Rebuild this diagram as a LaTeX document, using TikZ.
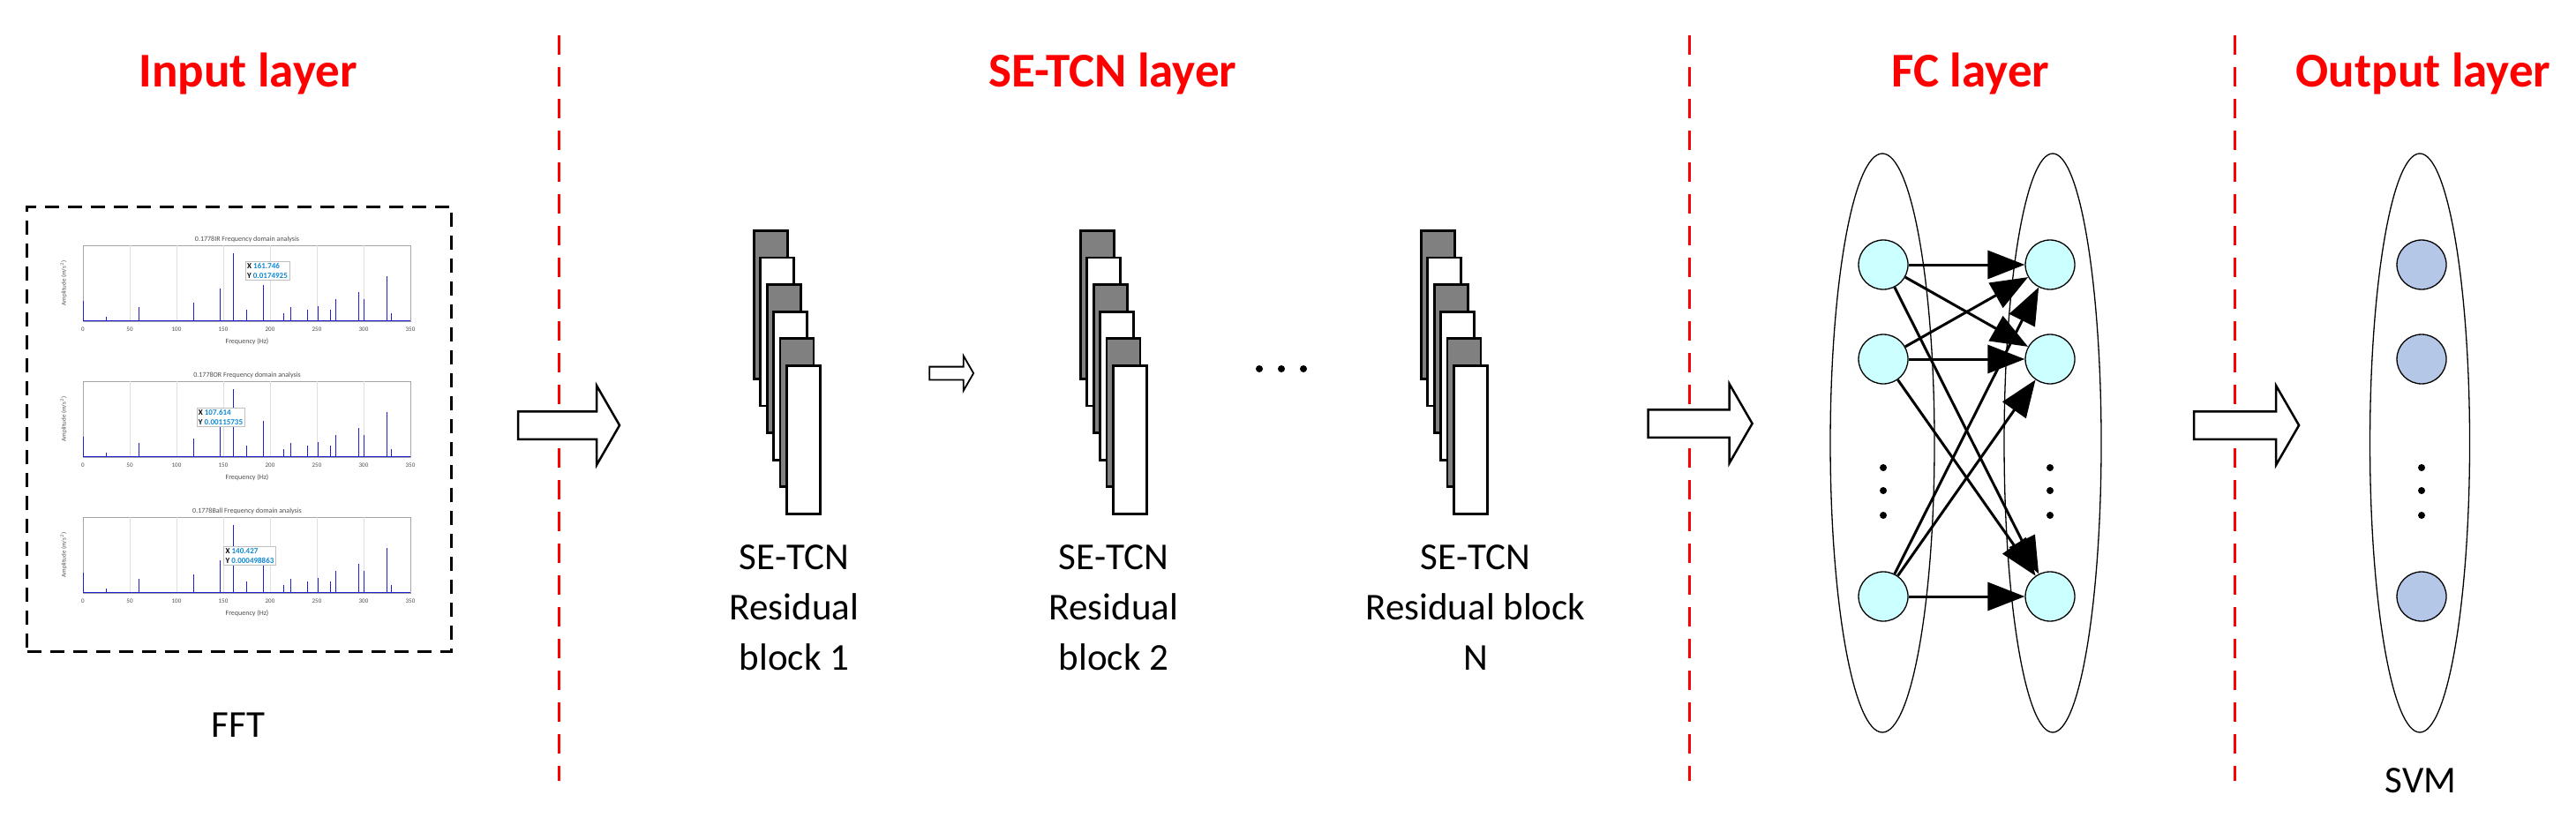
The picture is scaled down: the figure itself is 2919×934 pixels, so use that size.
\documentclass[tikz,border=0pt]{standalone}
\usepackage{fontspec}
\setmainfont{Carlito}
\usetikzlibrary{arrows.meta,shapes.arrows,shapes.geometric}
\definecolor{nodeA}{HTML}{CCFFFF}
\definecolor{nodeB}{HTML}{B4C7E7}
\definecolor{spec}{HTML}{1F1FD0}
\begin{document}
\begin{tikzpicture}[x=1pt,y=-1pt,
  title/.style={text=red,font=\fontsize{55}{60}\selectfont\bfseries},
  lab/.style={font=\fontsize{43}{57}\selectfont,align=center,anchor=north},
  sep/.style={red,line width=3pt,dash pattern=on 22pt off 14pt},
  barrow/.style={single arrow,draw,line width=2.5pt,fill=white,minimum height=#1,single arrow head extend=29pt,single arrow tip angle=120,inner xsep=0pt,inner ysep=14.5pt},
  neu/.style={circle,draw,line width=1.3pt,minimum size=56pt,inner sep=0pt},
  edge/.style={line width=3pt,-{Triangle[length=42pt,width=32pt]}},
  lay/.style={draw,line width=1.3pt}]
\useasboundingbox (0,0) rectangle (2919,934);
% separators
\foreach \x in {633,1914,2532}{\draw[sep] (\x,40) -- (\x,885);}
% titles
\node[title] (t1) at (281,84) {Input layer};
\node[title] (t2) at (1261,84) {SE-TCN layer};
\node[title] (t3) at (2233,84) {FC layer};
\node[title] (t4) at (2746,84) {Output layer};
% input box
\node[draw,line width=3pt,dash pattern=on 16pt off 10pt,minimum width=481pt,minimum height=504pt] (inbox) at (271,486) {};
\node[font=\fontsize{43}{50}\selectfont] (fft) at (270,822) {FFT};
% spectra
\foreach \yt/\ttl/\tx/\ty/\xl/\yl in {278/0.1778IR/263/307/161.746/0.0174925, 432/0.1778OR/210/473/107.614/0.00115735, 586/0.1778Ball/243/630/140.427/0.000498863}{
  \draw[gray!70,line width=0.8pt] (94,\yt) rectangle (465,\yt+86);
  \foreach \g in {147,200,253,306,359,412}{\draw[gray!25,line width=0.4pt] (\g,\yt) -- (\g,\yt+86);}
  \node[font=\fontsize{8}{9}\selectfont,text=black!70] at (280,\yt-7) {\ttl\ Frequency domain analysis};
  \node[font=\fontsize{8}{9}\selectfont,text=black!70] at (280,\yt+109) {Frequency (Hz)};
  \node[font=\fontsize{7}{8}\selectfont,text=black!70,rotate=90] at (72,\yt+43) {Amplitude (m/s$^2$)};
  \foreach \v/\n in {0/0,50/50,100/100,150/150,200/200,250/250,300/300,350/350}{\node[font=\fontsize{7}{8}\selectfont,text=black!70] at (94+\v*1.06,\yt+95) {\n};}
  \draw[spec,line width=0.9pt] (94,\yt+85) -- (465,\yt+85);
  \foreach \p/\h in {0/22,25/4,60/15,118/20,147/36,161/76,175/12,193/40,215/8,222/15,240/12,251/16,265/12,270/24,295/32,300/24,325/50,330/8}{
    \draw[spec,line width=0.9pt] (94+\p*1.06,\yt+85) -- ++(0,-\h);}
  \node[draw=gray!50,fill=white,font=\fontsize{9}{11}\selectfont\bfseries,align=left,inner sep=2pt] at (\tx+40,\ty) {X \textcolor{cyan!70!blue}{\xl}\\Y \textcolor{cyan!70!blue}{\yl}};
}
% arrows
\node[barrow=115pt] (a1) at (640,482) {};
\node[barrow=50pt,inner ysep=6.5pt,single arrow head extend=12.5pt,line width=1.8pt] (a2) at (1076,423) {};
\node[barrow=118pt] (a3) at (1922,480) {};
\node[barrow=119pt] (a4) at (2541,482) {};
% residual stacks
\foreach \bx/\nm in {853/s1,1223/s2,1609/s3}{
  \foreach \i/\c in {0/gray,1/white,2/gray,3/white,4/gray,5/white}{
    \node[draw,line width=2.8pt,fill=\c,minimum width=38pt,minimum height=168pt,inner sep=0pt,anchor=north west] (\nm\i) at (\bx+\i*7.4,260+\i*30.6) {};
  }
}
\node[lab] (b1) at (900,614) {SE-TCN\\Residual\\block 1};
\node[lab] (b2) at (1262,614) {SE-TCN\\Residual\\block 2};
\node[lab] (b3) at (1672,614) {SE-TCN\\Residual block\\N};
\foreach \x in {1427,1452,1477}{\fill (\x,418) circle (4pt);}
% FC layer
\node[lay,ellipse,minimum width=118pt,minimum height=656pt] (e1) at (2133,502) {};
\node[lay,ellipse,minimum width=110pt,minimum height=656pt] (e2) at (2326,502) {};
\node[lay,ellipse,minimum width=113pt,minimum height=656pt] (e3) at (2742,502) {};
\foreach \y/\k in {300/1,407/2,676/3}{
  \node[neu,fill=nodeA] (L\k) at (2134,\y) {};
  \node[neu,fill=nodeA] (R\k) at (2323,\y) {};
  \node[neu,fill=nodeB] (O\k) at (2744,\y) {};
}
\foreach \y in {530,556,584}{\fill (2134,\y) circle (4pt); \fill (2323,\y) circle (4pt); \fill (2744,\y) circle (4pt);}
\foreach \i in {1,2,3}{\foreach \j in {1,2,3}{\draw[edge] (L\i) -- (R\j);}}
\node[font=\fontsize{43}{50}\selectfont] (svm) at (2743,885) {SVM};
\end{tikzpicture}
\end{document}
